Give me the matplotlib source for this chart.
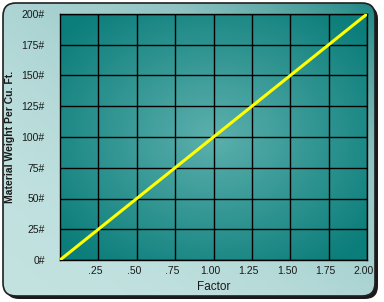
import numpy as np
import matplotlib
matplotlib.use("Agg")
import matplotlib.pyplot as plt
import matplotlib.transforms as mtransforms
from matplotlib.patches import FancyBboxPatch
from matplotlib.colors import LinearSegmentedColormap

factor = [0.0, 0.25, 0.50, 0.75, 1.00, 1.25, 1.50, 1.75, 2.00]
weight = [0, 25, 50, 75, 100, 125, 150, 175, 200]
x_ticks = [0.25, 0.50, 0.75, 1.00, 1.25, 1.50, 1.75, 2.00]
x_tick_labels = [".25", ".50", ".75", "1.00", "1.25", "1.50", "1.75", "2.00"]
y_ticks = [0, 25, 50, 75, 100, 125, 150, 175, 200]
y_tick_labels = ["0#", "25#", "50#", "75#", "100#", "125#", "150#", "175#", "200#"]

W, H = 384, 302
fig = plt.figure(figsize=(W / 100, H / 100), dpi=100)
fig.patch.set_facecolor("white")

# background panel
bg = fig.add_axes([0, 0, 1, 1])
bg.set_xlim(0, W)
bg.set_ylim(0, H)
bg.axis("off")
shadow = FancyBboxPatch((6, 3), W - 12, H - 9, boxstyle="round,pad=0,rounding_size=13",
                        fc="#1a1a1a", ec="none", zorder=1)
bg.add_patch(shadow)
panel = FancyBboxPatch((3, 6), W - 12, H - 9, boxstyle="round,pad=0,rounding_size=13",
                       fc="none", ec="#202020", lw=1.2, zorder=3)
bg.add_patch(panel)
xx, yy = np.meshgrid(np.linspace(0, 1, 200), np.linspace(0, 1, 160))
t = np.clip((xx + yy) / 2, 0, 1) ** 2.2
cm_bg = LinearSegmentedColormap.from_list("bg", ["#c2e2e0", "#8fc3c2", "#1d8683"])
im = bg.imshow(t, cmap=cm_bg, origin="lower", extent=[3, W - 9, 6, H - 3],
               aspect="auto", zorder=2, vmin=0, vmax=1)
clip = FancyBboxPatch((3, 6), W - 12, H - 9, boxstyle="round,pad=0,rounding_size=13",
                      transform=bg.transData, fc="none", ec="none")
bg.add_patch(clip)
im.set_clip_path(clip)

# plot axes
ax = fig.add_axes([60 / W, 1 - 260 / H, 307 / W, 246 / H])
gx, gy = np.meshgrid(np.linspace(-1, 1, 200), np.linspace(-1, 1, 200))
r = np.clip(np.sqrt(gx ** 2 + gy ** 2) / 1.3, 0, 1)
cm_pl = LinearSegmentedColormap.from_list("pl", ["#5cb0ad", "#0b7d7a"])
ax.imshow(r, cmap=cm_pl, extent=[0, 2, 0, 200], aspect="auto", origin="lower",
          zorder=0, vmin=0, vmax=1)
ax.set_xlim(0, 2)
ax.set_ylim(0, 200)
ax.set_xticks(x_ticks)
ax.set_xticklabels(x_tick_labels)
ax.set_yticks(y_ticks)
ax.set_yticklabels(y_tick_labels)
ax.grid(True, color="black", lw=1.0, zorder=1)
ax.set_axisbelow(False)
ax.tick_params(length=0, labelsize=7.5, colors="#1a1a1a",
               labelfontfamily="Liberation Sans")
ax.tick_params(axis="y", pad=11)
ax.tick_params(axis="x", pad=4)
offset = mtransforms.ScaledTranslation(-3 / 100, 0, fig.dpi_scale_trans)
for lbl in ax.get_xticklabels():
    lbl.set_transform(lbl.get_transform() + offset)
for s in ax.spines.values():
    s.set_color("black")
    s.set_linewidth(1.0)
ax.plot(factor, weight, color="#ffff00", lw=2.2, zorder=3, solid_capstyle="butt")
ax.set_xlabel("Factor", fontsize=8.5, family="Liberation Sans",
              color="#1a1a1a", labelpad=4)
ax.set_ylabel("Material Weight Per Cu. Ft.", fontsize=7.5, fontweight="bold",
              family="Liberation Sans", color="#1a1a1a", labelpad=5)

fig.savefig("out.png", dpi=100, facecolor="white")
